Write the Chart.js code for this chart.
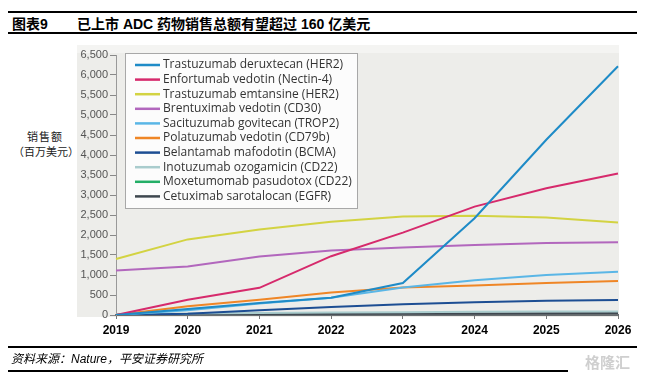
<!DOCTYPE html>
<html>
<head>
<meta charset="utf-8">
<script src="https://cdn.jsdelivr.net/npm/chart.js@4.4.1/dist/chart.umd.min.js"></script>
<style>
    body {
        margin: 0;
        width: 645px;
        height: 375px;
        background: #fff;
        position: relative;
        overflow: hidden;
        font-family: "Liberation Sans", "Noto Sans CJK SC", sans-serif;
    }
    #myChart { position: absolute; left: 0; top: 0; }
    .rule { position: absolute; left: 8px; width: 629px; height: 2px; background: #000; }
    .head { position: absolute; top: 13px; font-size: 14px; font-weight: bold; color: #000; white-space: nowrap; }
    .ytitle { position: absolute; font-family: "Noto Sans CJK SC", serif; font-size: 11px; color: #222; white-space: nowrap; }
    .source { position: absolute; left: 11px; top: 349px; font-size: 12px; font-style: italic; color: #000; white-space: nowrap; }
    .mark { position: absolute; left: 585px; top: 351px; font-size: 15px; font-weight: bold; color: #cfcfcf; font-family: "Noto Sans CJK SC", sans-serif; }
</style>
</head>
<body>
<div class="rule" style="top:11px"></div>
<div class="head" style="left:12px">图表9</div>
<div class="head" style="left:77px">已上市 ADC 药物销售总额有望超过 160 亿美元</div>
<div class="rule" style="top:32px"></div>

<div class="ytitle" style="left:27px;top:128px;letter-spacing:1px">销售额</div>
<div class="ytitle" style="left:13px;top:143px">（百万美元）</div>

<canvas id="myChart" width="645" height="375"></canvas>

<div class="rule" style="top:346px"></div>
<div class="source">资料来源：Nature，平安证券研究所</div>
<div class="rule" style="top:370px;width:560px"></div>
<div class="mark">格隆汇</div>

<script>
// years on the x axis
const years = ["2019", "2020", "2021", "2022", "2023", "2024", "2025", "2026"];

// sales, million USD
const deruxtecan = [0, 150, 300, 430, 800, 2420, 4380, 6220];
const enfortumab = [0, 380, 680, 1470, 2060, 2710, 3170, 3540];
const emtansine = [1400, 1890, 2140, 2330, 2460, 2480, 2440, 2310];
const brentuximab = [1110, 1210, 1460, 1610, 1690, 1750, 1800, 1820];
const sacituzumab = [0, 120, 290, 430, 690, 870, 1000, 1080];
const polatuzumab = [0, 220, 380, 560, 690, 740, 800, 850];
const belantamab = [0, 30, 120, 200, 270, 320, 355, 375];
const inotuzumab = [20, 40, 50, 60, 70, 80, 85, 90];
const moxetumomab = [15, 15, null, null, null, null, null, null];
const cetuximab = [null, 20, 25, 30, 35, 40, 45, 50];

const seriesNames = [
    "Trastuzumab deruxtecan (HER2)",
    "Enfortumab vedotin (Nectin-4)",
    "Trastuzumab emtansine (HER2)",
    "Brentuximab vedotin (CD30)",
    "Sacituzumab govitecan (TROP2)",
    "Polatuzumab vedotin (CD79b)",
    "Belantamab mafodotin (BCMA)",
    "Inotuzumab ozogamicin (CD22)",
    "Moxetumomab pasudotox (CD22)",
    "Cetuximab sarotalocan (EGFR)"
];
const seriesValues = [deruxtecan, enfortumab, emtansine, brentuximab, sacituzumab,
    polatuzumab, belantamab, inotuzumab, moxetumomab, cetuximab];
const seriesColors = ["#1e8bc7", "#d62a6c", "#d3d342", "#b267bd", "#5ab6e6",
    "#ef8626", "#1d4e93", "#a9cccd", "#23ae66", "#3e474f"];

const datasets = seriesNames.map((name, i) => ({
    label: name,
    data: seriesValues[i],
    borderColor: seriesColors[i],
    backgroundColor: seriesColors[i],
    borderWidth: 2,
    pointRadius: 0,
    tension: 0,
    spanGaps: false
}));

// grey photo background behind the plot
const backdrop = {
    id: "backdrop",
    beforeDraw(chart) {
        const ca = chart.chartArea;
        const ctx = chart.ctx;
        ctx.save();
        ctx.fillStyle = "#ededea";
        ctx.fillRect(ca.left - 39, ca.top - 10, ca.right - ca.left + 40, ca.bottom - ca.top + 12);
        ctx.fillStyle = "#f4f4f2";
        ctx.fillRect(ca.left - 39, ca.top - 10, ca.right - ca.left + 40, 8);
        ctx.restore();
    }
};

// boxed legend sitting inside the plot
const boxLegend = {
    id: "boxLegend",
    afterDraw(chart) {
        const ca = chart.chartArea;
        const ctx = chart.ctx;
        const x = ca.left + 9;
        const y = ca.top - 2;
        ctx.save();
        ctx.fillStyle = "#fcfcfc";
        ctx.fillRect(x, y, 232, 155);
        ctx.strokeStyle = "#a8a8a8";
        ctx.lineWidth = 1;
        ctx.strokeRect(x + 0.5, y + 0.5, 232, 155);
        ctx.font = '12px "Open Sans"';
        ctx.textBaseline = "middle";
        chart.data.datasets.forEach((ds, i) => {
            const rowY = y + 12 + i * 14.6;
            ctx.strokeStyle = ds.borderColor;
            ctx.lineWidth = 2.5;
            ctx.beginPath();
            ctx.moveTo(x + 10, rowY);
            ctx.lineTo(x + 35, rowY);
            ctx.stroke();
            ctx.fillStyle = "#333";
            ctx.fillText(ds.label, x + 38, rowY);
        });
        ctx.restore();
    }
};

const ctx = document.getElementById("myChart").getContext("2d");
const chart = new Chart(ctx, {
    type: "line",
    data: { labels: years, datasets: datasets },
    plugins: [backdrop, boxLegend],
    options: {
        responsive: false,
        animation: false,
        layout: { padding: { left: 77, right: 27, top: 55, bottom: 30 } },
        plugins: {
            legend: { display: false },
            tooltip: { enabled: false }
        },
        scales: {
            x: {
                grid: { display: true, drawOnChartArea: false, drawTicks: true, tickLength: 4, color: "#777" },
                border: { display: true, color: "#6a6f72", width: 2 },
                ticks: {
                    color: "#000",
                    padding: 4,
                    maxRotation: 0,
                    font: { family: "Liberation Sans", size: 12, weight: "bold" }
                },
                afterFit(scale) {
                    scale.height = 30;
                    scale.paddingLeft = 0;
                    scale.paddingRight = 0;
                }
            },
            y: {
                min: 0,
                max: 6500,
                grid: { display: true, drawOnChartArea: false, drawTicks: true, tickLength: 6, color: "#888" },
                border: { display: true, color: "#999", width: 1 },
                ticks: {
                    stepSize: 500,
                    color: "#555",
                    padding: 2,
                    font: { family: "Liberation Sans", size: 11 },
                    callback: (v) => v.toLocaleString("en-US")
                },
                afterFit(scale) {
                    scale.width = 39;
                    scale.paddingTop = 0;
                    scale.paddingBottom = 0;
                }
            }
        }
    }
});
</script>
</body>
</html>
